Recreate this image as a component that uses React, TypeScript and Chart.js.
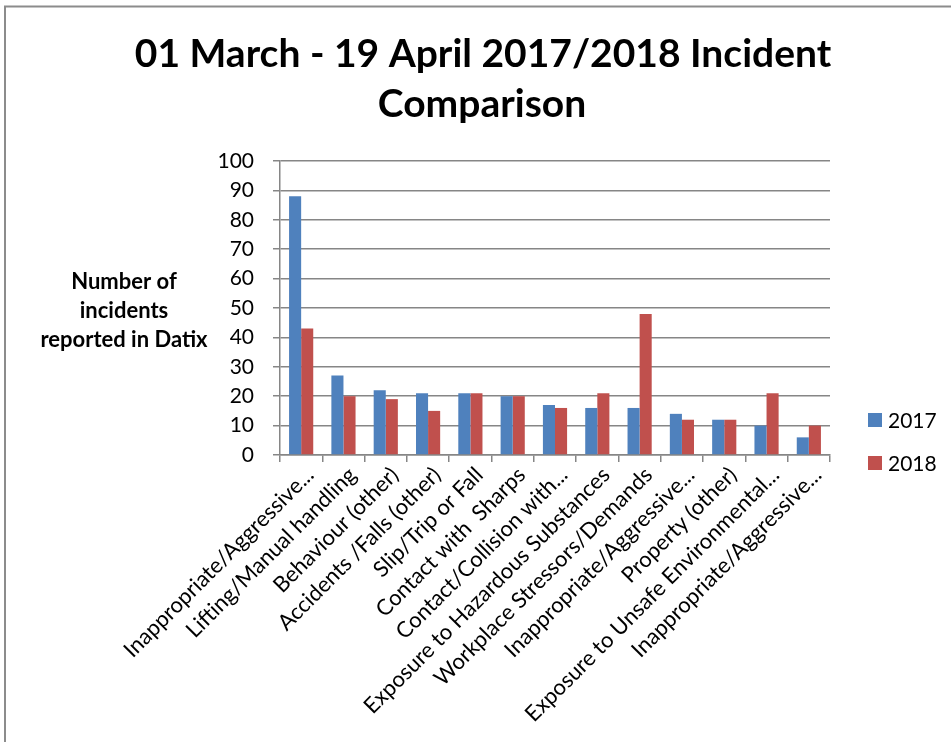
import { useEffect, useRef } from "react";
import { Chart, registerables } from "chart.js";

Chart.register(...registerables);

// Incident categories (as they appear on the x axis)
const categories = [
  "Inappropriate/Aggressive...",
  "Lifting/Manual handling",
  "Behaviour (other)",
  "Accidents /Falls (other)",
  "Slip/Trip or Fall",
  "Contact with  Sharps",
  "Contact/Collision with...",
  "Exposure to Hazardous Substances",
  "Workplace Stressors/Demands",
  "Inappropriate/Aggressive...",
  "Property (other)",
  "Exposure to Unsafe Environmental...",
  "Inappropriate/Aggressive...",
];

const seriesNames = ["2017", "2018"];
const incidents2017 = [88, 27, 22, 21, 21, 20, 17, 16, 16, 14, 12, 10, 6];
const incidents2018 = [43, 20, 19, 15, 21, 20, 16, 21, 48, 12, 12, 21, 10];

const yMin = 0;
const yMax = 100;
const yStep = 10;

const titleLines = ["01 March - 19 April 2017/2018 Incident", "Comparison"];
const yTitleLines = ["Number of", "incidents", "reported in Datix"];

const FONT = "Lato, 'Open Sans', sans-serif";
const AXIS_GREY = "#868686";

// Frame, title, vertical axis caption and legend drawn around the plot
const decorations = {
  id: "decorations",
  beforeDraw(chart: Chart) {
    const ctx = chart.ctx;
    ctx.save();
    ctx.fillStyle = "#ffffff";
    ctx.fillRect(0, 0, chart.width, chart.height);
    ctx.strokeStyle = "#8c8c8c";
    ctx.lineWidth = 2;
    ctx.beginPath();
    ctx.moveTo(5, chart.height);
    ctx.lineTo(5, 6.5);
    ctx.lineTo(chart.width, 6.5);
    ctx.stroke();
    ctx.restore();
  },
  afterDraw(chart: Chart) {
    const ctx = chart.ctx;
    ctx.save();
    ctx.fillStyle = "#000000";
    ctx.textAlign = "center";
    ctx.textBaseline = "alphabetic";

    // chart title
    ctx.font = `bold 39px ${FONT}`;
    ctx.fillText(titleLines[0], 483, 67);
    ctx.fillText(titleLines[1], 482, 117);

    // vertical axis caption, horizontal text
    ctx.font = `bold 22px ${FONT}`;
    ctx.textBaseline = "middle";
    yTitleLines.forEach((line, i) => {
      ctx.fillText(line, 124, 282 + i * 29);
    });

    // legend
    ctx.textAlign = "left";
    ctx.font = `21px ${FONT}`;
    chart.data.datasets.forEach((ds, i) => {
      const cy = 420 + i * 43;
      ctx.fillStyle = ds.backgroundColor as string;
      ctx.fillRect(868, cy - 7, 14, 14);
      ctx.fillStyle = "#000000";
      ctx.fillText(ds.label as string, 888, cy + 1);
    });
    ctx.restore();
  },
};

export default function App() {
  const canvasRef = useRef<HTMLCanvasElement | null>(null);

  useEffect(() => {
    const canvas = canvasRef.current;
    if (!canvas) return;
    const chart = new Chart(canvas, {
      type: "bar",
      data: {
        labels: categories,
        datasets: [
          {
            label: seriesNames[0],
            data: incidents2017,
            backgroundColor: "#4F81BD",
          },
          {
            label: seriesNames[1],
            data: incidents2018,
            backgroundColor: "#C0504D",
          },
        ],
      },
      options: {
        animation: false,
        responsive: false,
        maintainAspectRatio: false,
        events: [],
        layout: { padding: { top: 161, right: 121, left: 0, bottom: 0 } },
        datasets: {
          bar: { categoryPercentage: 2 / 3.5, barPercentage: 1 },
        },
        plugins: {
          legend: { display: false },
          title: { display: false },
          tooltip: { enabled: false },
        },
        scales: {
          x: {
            offset: true,
            grid: {
              offset: true,
              drawOnChartArea: false,
              drawTicks: true,
              tickLength: 7,
              color: AXIS_GREY,
              lineWidth: 1.5,
            },
            border: { display: true, color: AXIS_GREY, width: 1.5 },
            ticks: {
              autoSkip: false,
              maxRotation: 45,
              minRotation: 45,
              labelOffset: 9,
              padding: 0,
              color: "#000000",
              font: { family: FONT, size: 22 },
            },
            afterFit(scale: any) {
              scale.height = 742 - 455;
            },
          },
          y: {
            min: yMin,
            max: yMax,
            ticks: {
              stepSize: yStep,
              padding: 19,
              color: "#000000",
              font: { family: FONT, size: 21 },
            },
            grid: {
              color: AXIS_GREY,
              lineWidth: 1.5,
              tickLength: 7,
              drawTicks: true,
            },
            border: { display: true, color: AXIS_GREY, width: 1.5 },
            afterFit(scale: any) {
              scale.width = 280;
            },
          },
        },
      },
      plugins: [decorations],
    });
    return () => chart.destroy();
  }, []);

  return (
    <div style={{ position: "absolute", left: 0, top: 0, width: 951, height: 742 }}>
      <canvas ref={canvasRef} width={951} height={742} style={{ display: "block" }} />
    </div>
  );
}
